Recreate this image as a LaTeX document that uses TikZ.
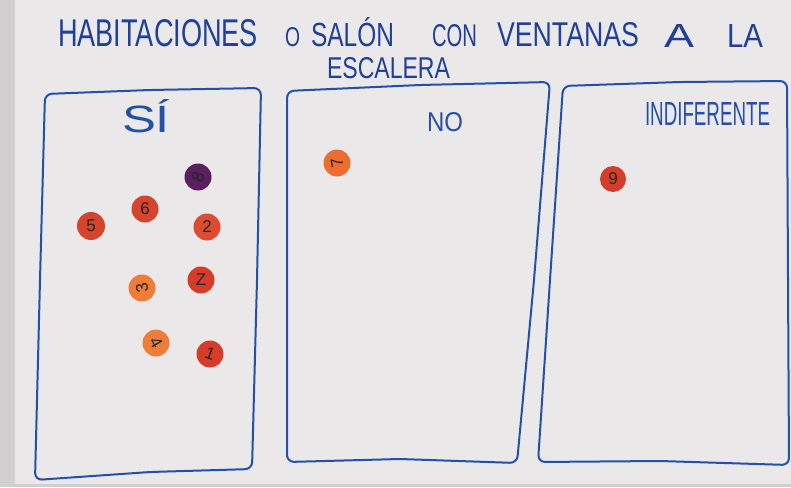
\documentclass[tikz,border=0pt]{standalone}
\usepackage{fontspec}
\setmainfont{Liberation Sans}
\definecolor{ink}{HTML}{2450A8}
\definecolor{titleink}{HTML}{1F3F98}
\definecolor{paper}{HTML}{EAE8E9}
\definecolor{outside}{HTML}{D2CFD0}
\definecolor{plum}{HTML}{5A1F5E}
\definecolor{redA}{HTML}{D6442C}
\definecolor{redB}{HTML}{DE4B30}
\definecolor{redC}{HTML}{D63C2A}
\definecolor{orangeA}{HTML}{EF7D37}
\definecolor{orangeB}{HTML}{EE6C2E}
\begin{document}
\begin{tikzpicture}[x=1pt,y=-1pt,
  pen/.style={draw=ink, line width=2pt, line join=round, line cap=round, rounded corners=7pt},
  word/.style={anchor=south west, inner sep=0pt, outer sep=0pt, text=titleink},
  label/.style={anchor=south west, inner sep=0pt, outer sep=0pt, text=ink},
  dot/.style={circle, minimum size=27pt, inner sep=0pt, text=black!85, font=\fontsize{17}{17}\selectfont},
]
\useasboundingbox (0,0) rectangle (791,487);
\fill[outside] (0,0) rectangle (791,487);
\fill[paper] (15,0) rectangle (791,484);

% title
\node[word] (w1) at (58,47) {\resizebox{200pt}{27pt}{HABITACIONES}};
\node[word] (w2) at (285,47) {\resizebox{15pt}{19pt}{O}};
\node[word] (w3) at (311,47) {\resizebox{83pt}{29pt}{SALÓN}};
\node[word] (w4) at (432,47) {\resizebox{45pt}{22pt}{CON}};
\node[word] (w5) at (497,47) {\resizebox{142pt}{24pt}{VENTANAS}};
\node[word] (w6) at (664,47) {\resizebox{30pt}{23pt}{A}};
\node[word] (w7) at (727,47) {\resizebox{36pt}{23pt}{LA}};
\node[word] (w8) at (327,79) {\resizebox{123pt}{21pt}{ESCALERA}};

% boxes
\draw[pen] (45,94) -- (150,90) -- (261,88) -- (257,280) -- (252,469) -- (150,472) -- (35,480) -- (40,280) -- cycle;
\draw[pen] (287,91) -- (420,85) -- (550,82) -- (534,280) -- (517,463) -- (400,459) -- (287,462) -- (287,280) -- cycle;
\draw[pen] (563,86) -- (680,82) -- (787,81) -- (788,280) -- (789,465) -- (660,461) -- (538,462) -- (550,280) -- cycle;

% column labels
\node[label] (si) at (122,133) {\resizebox{48pt}{33pt}{SÍ}};
\node[label] (no) at (427,132) {\resizebox{36pt}{19pt}{NO}};
\node[label] (ind) at (645,125) {\resizebox{125pt}{23pt}{INDIFERENTE}};

% dots
\node[dot, fill=plum] (d8) at (198,177) {\rotatebox{70}{8}};
\node[dot, fill=redA] (d6) at (145,209) {6};
\node[dot, fill=redA, minimum size=28pt] (d5) at (91,226) {5};
\node[dot, fill=redB] (d2) at (207,227) {2};
\node[dot, fill=redC] (dz) at (201,280) {Z};
\node[dot, fill=orangeA] (d3) at (142,288) {\rotatebox{100}{3}};
\node[dot, fill=orangeA] (d4) at (156,343) {\rotatebox{-60}{4}};
\node[dot, fill=redC] (d1) at (210,354) {\rotatebox{-20}{1}};
\node[dot, fill=orangeB] (d7) at (337,163) {\rotatebox{100}{7}};
\node[dot, fill=redC, minimum size=26pt] (d9) at (613,179) {9};
\end{tikzpicture}
\end{document}
